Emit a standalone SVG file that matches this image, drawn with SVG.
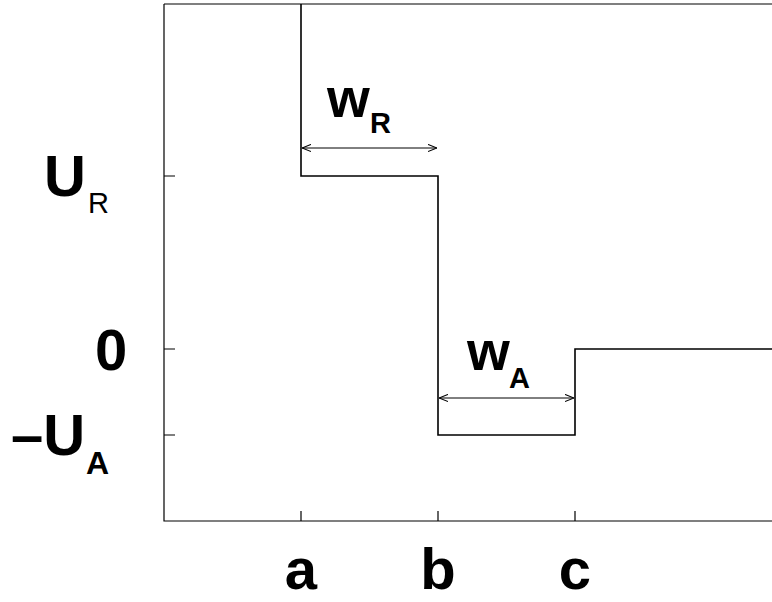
<svg xmlns="http://www.w3.org/2000/svg" width="772" height="602" viewBox="0 0 772 602">
<defs>
<style>
.ax{stroke:#000;stroke-width:1.2;fill:none}
.st{stroke:#000;stroke-width:1.6;fill:none}
.ar{stroke:#000;stroke-width:1;fill:none}
.big{font-family:"Liberation Sans",Arial,sans-serif;font-weight:bold;font-size:58px;fill:#000}
.lbl{font-family:"Liberation Sans",Arial,sans-serif;font-weight:bold;font-size:55px;fill:#000}
.sub{font-family:"Liberation Sans",Arial,sans-serif;font-size:29px;fill:#000}
.subb{font-family:"Liberation Sans",Arial,sans-serif;font-weight:bold;font-size:29px;fill:#000}
</style>
<marker id="ah" viewBox="0 0 10 10" refX="10" refY="5" markerWidth="9" markerHeight="9" markerUnits="userSpaceOnUse" orient="auto-start-reverse">
<path d="M0,1 L10,5 L0,9" fill="none" stroke="#000" stroke-width="1.2"/>
</marker>
</defs>
<rect width="772" height="602" fill="#fff"/>
<g id="axes">
<path class="ax" d="M164,4 H772 M164,4 V521 H772"/>
<path class="ax" d="M164,176 H175 M164,349 H175 M164,435 H175"/>
<path class="ax" d="M301,521 V511 M438,521 V511 M575,521 V511"/>
</g>
<g id="connectors">
<path id="step" class="st" d="M301,4 V176 H438 V435 H575 V349 H772"/>
<line id="arrowR" class="ar" x1="302" y1="148" x2="437" y2="148" marker-start="url(#ah)" marker-end="url(#ah)"/>
<line id="arrowA" class="ar" x1="439" y1="398" x2="574" y2="398" marker-start="url(#ah)" marker-end="url(#ah)"/>
</g>
<g id="label-UR"><text class="big" x="44" y="196">U</text><text class="sub" x="88" y="213">R</text></g>
<g id="label-0"><text class="big" x="95" y="370">0</text></g>
<g id="label-UA"><text class="big" x="11" y="455">–U</text><text style="font-family:'Liberation Sans',Arial,sans-serif;font-weight:bold;font-size:32px" x="86" y="474">A</text></g>
<g id="label-wR"><text class="lbl" x="327" y="117">w</text><text class="subb" x="370" y="133">R</text></g>
<g id="label-wA"><text class="lbl" x="467" y="370">w</text><text class="subb" x="509" y="388">A</text></g>
<g id="label-a"><text class="big" x="301" y="589" text-anchor="middle">a</text></g>
<g id="label-b"><text class="big" x="438" y="589" text-anchor="middle">b</text></g>
<g id="label-c"><text class="big" x="575" y="589" text-anchor="middle">c</text></g>
</svg>
